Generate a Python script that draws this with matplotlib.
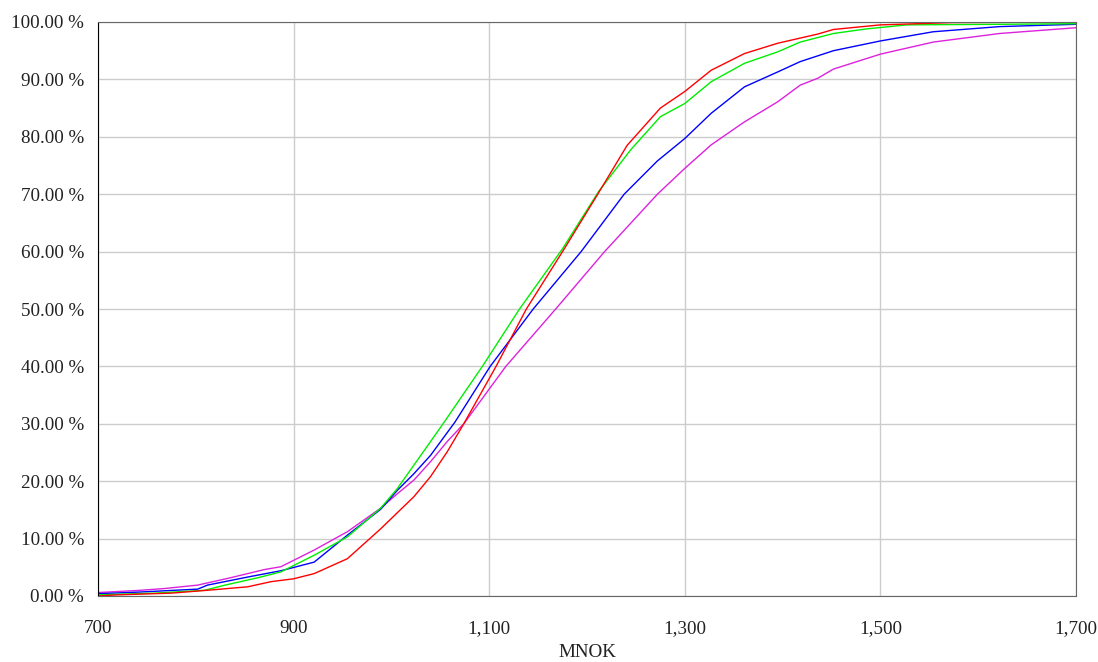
import matplotlib
matplotlib.use('Agg')
import matplotlib.pyplot as plt
from matplotlib.ticker import FuncFormatter

# values (x in MNOK, y in cumulative %)
red_x = [700, 720, 775, 812, 853, 877, 900, 921, 955, 989, 1023, 1040, 1057, 1074,
         1107, 1138, 1175, 1211, 1241, 1275, 1300, 1327, 1361, 1395, 1436, 1452,
         1500, 1574, 1700]
red_y = [0, 0.2, 0.5, 1.0, 1.6, 2.5, 3.0, 3.9, 6.5, 11.7, 17.3, 20.8, 25.1, 30.0,
         40, 50, 60, 70, 78.5, 85, 87.9, 91.6, 94.5, 96.3, 97.9, 98.7,
         99.5, 99.9, 100]

green_x = [700, 758, 809, 830, 864, 887, 921, 955, 989, 1006, 1023, 1040, 1054,
           1093, 1131, 1175, 1212, 1245, 1275, 1300, 1327, 1361, 1395, 1418, 1452,
           1486, 1527, 1622, 1700]
green_y = [0.2, 0.5, 1.0, 1.9, 3.2, 4.2, 7.1, 10.3, 15.3, 18.7, 22.8, 26.9, 30.3,
           40, 50, 60.5, 70.5, 77.8, 83.5, 85.8, 89.6, 92.8, 94.8, 96.5, 98.0,
           98.8, 99.5, 99.6, 99.7]

blue_x = [700, 744, 802, 812, 853, 887, 921, 955, 989, 1006, 1023, 1040, 1065,
          1101, 1145, 1194, 1238, 1272, 1300, 1327, 1361, 1395, 1418, 1452,
          1500, 1554, 1622, 1700]
blue_y = [0.4, 0.7, 1.2, 1.9, 3.3, 4.4, 5.9, 10.6, 15.1, 18.4, 21.3, 24.5, 30.3,
          40, 50, 60, 70, 75.8, 79.7, 84.1, 88.7, 91.3, 93.1, 95.0,
          96.7, 98.3, 99.2, 99.6]

magenta_x = [700, 744, 768, 802, 836, 870, 887, 921, 955, 989, 1006, 1023, 1040,
             1057, 1074, 1117, 1168, 1218, 1272, 1300, 1327, 1361, 1395,
             1418, 1436, 1452, 1500, 1554, 1622, 1700]
magenta_y = [0.6, 1.0, 1.3, 1.9, 3.2, 4.6, 5.1, 8.0, 11.2, 15.3, 17.8, 20.2, 23.4,
             26.9, 30, 40, 50, 60, 70, 74.5, 78.6, 82.6, 86.1,
             89.0, 90.2, 91.8, 94.4, 96.5, 98.0, 99.0]

x_ticks = [700, 900, 1100, 1300, 1500, 1700]
y_ticks = [0, 10, 20, 30, 40, 50, 60, 70, 80, 90, 100]

plt.rcParams['font.family'] = ['Liberation Serif', 'DejaVu Serif']

fig = plt.figure(figsize=(10.98, 6.62), dpi=100)
ax = fig.add_axes([98 / 1098, 1 - 596 / 662, (1076 - 98) / 1098, (596 - 22) / 662])

ax.plot(magenta_x, magenta_y, color='#dd22dd', lw=1)
ax.plot(blue_x, blue_y, color='#0000ff', lw=1)
ax.plot(green_x, green_y, color='#00ee00', lw=1)
ax.plot(red_x, red_y, color='#ff0000', lw=1)

ax.set_xlim(700, 1700)
ax.set_ylim(0, 100)
ax.set_xticks(x_ticks)
ax.set_yticks(y_ticks)
ax.xaxis.set_major_formatter(FuncFormatter(lambda v, p: f'{v:,.0f}'))
ax.yaxis.set_major_formatter(FuncFormatter(lambda v, p: f'{v:.2f} %'))
ax.tick_params(axis='both', length=0, labelsize=13.7, colors='#222222')
ax.tick_params(axis='x', pad=17)
ax.tick_params(axis='y', pad=10)
ax.grid(True, color='#cccccc', lw=1)
ax.set_axisbelow(True)

for side in ['top', 'right', 'bottom']:
    ax.spines[side].set_color('#666666')
ax.spines['left'].set_color('black')

ax.set_xlabel('MNOK', fontsize=13.7, labelpad=5, color='#222222')

fig.savefig('out.png', dpi=100)
